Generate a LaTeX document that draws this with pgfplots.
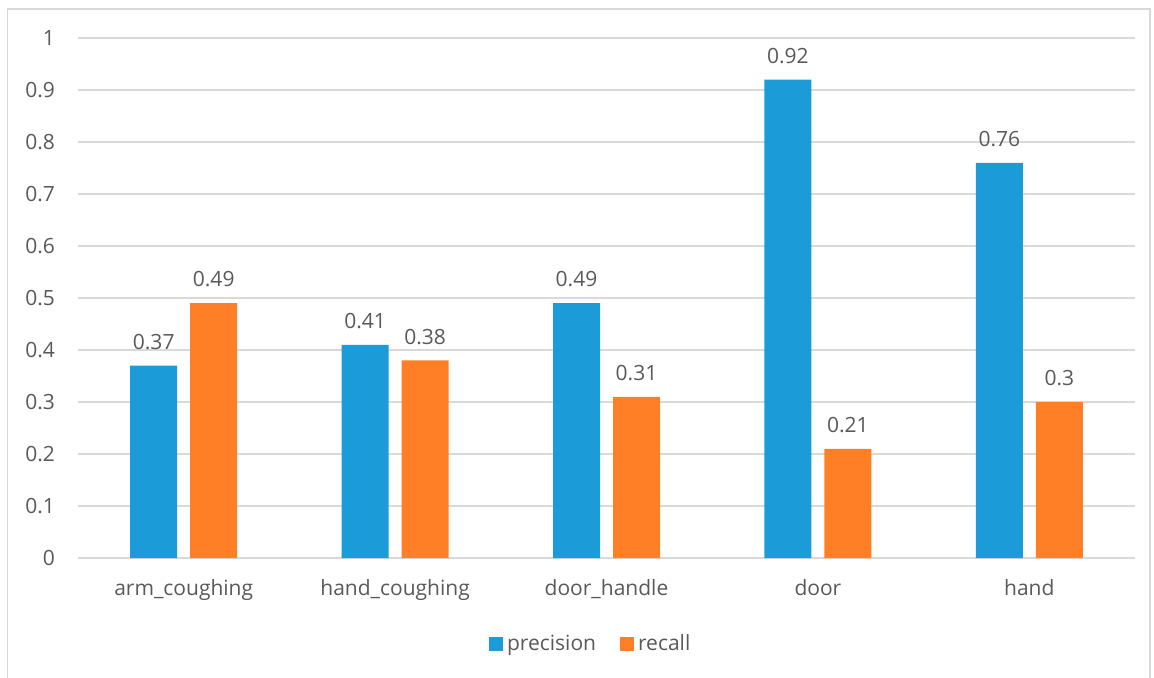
\documentclass[border=0pt]{standalone}
\usepackage{pgfplots}
\pgfplotsset{compat=1.18}
\usepackage{fontspec}
\setmainfont{Open Sans}
\definecolor{cblue}{HTML}{1B9BD7}
\definecolor{corange}{HTML}{FF7F27}
\definecolor{txt}{HTML}{595959}
\definecolor{gridc}{HTML}{D9D9D9}
\begin{document}
\begin{tikzpicture}
\path[use as bounding box] (0,0) rectangle (577pt,338.5pt);
\draw[gridc, line width=0.9pt] (3.75pt,-10pt) -- (3.75pt,334pt) -- (575pt,334pt) -- (575pt,-10pt);
\begin{axis}[
  at={(39pt,59.5pt)}, anchor=south west,
  scale only axis, width=528.5pt, height=260pt,
  xmin=-0.5, xmax=4.5, ymin=0, ymax=1,
  xtick={0,1,2,3,4},
  xticklabels={arm\_coughing,hand\_coughing,door\_handle,door,hand},
  ytick={0,0.1,0.2,0.3,0.4,0.5,0.6,0.7,0.8,0.9,1},
  ymajorgrids, grid style={gridc, line width=0.75pt},
  axis x line*=bottom, axis y line*=left,
  x axis line style={gridc, line width=0.9pt, -},
  y axis line style={draw=none},
  major tick length=0pt,
  tick label style={font=\fontsize{10.5}{12.6}\selectfont, text=txt},
  yticklabel style={xshift=-8pt},
  xticklabel style={yshift=-7pt},
  /pgf/number format/assume math mode=true,
  yticklabel={\pgfmathprintnumber[fixed,precision=1]{\tick}},
  ybar, bar width=23.5pt,
  nodes near coords,
  nodes near coords style={font=\fontsize{10.5}{12.6}\selectfont, text=txt, yshift=4.5pt,
    /pgf/number format/assume math mode=true, /pgf/number format/fixed, /pgf/number format/precision=2},
  legend style={at={(0.486,-0.165)}, anchor=center, draw=none, fill=none,
    font=\fontsize{10.5}{12.6}\selectfont, text=txt,
    /tikz/every even column/.append style={column sep=10pt}},
  legend columns=2,
  legend image code/.code={\fill[#1] (0pt,-3.5pt) rectangle (7pt,3.5pt);},
]
\addplot[fill=cblue, draw=none, bar shift=-15pt] coordinates {(0,0.37) (1,0.41) (2,0.49) (3,0.92) (4,0.76)};
\addplot[fill=corange, draw=none, bar shift=15pt] coordinates {(0,0.49) (1,0.38) (2,0.31) (3,0.21) (4,0.30)};
\legend{precision, recall}
\end{axis}
\end{tikzpicture}
\end{document}
